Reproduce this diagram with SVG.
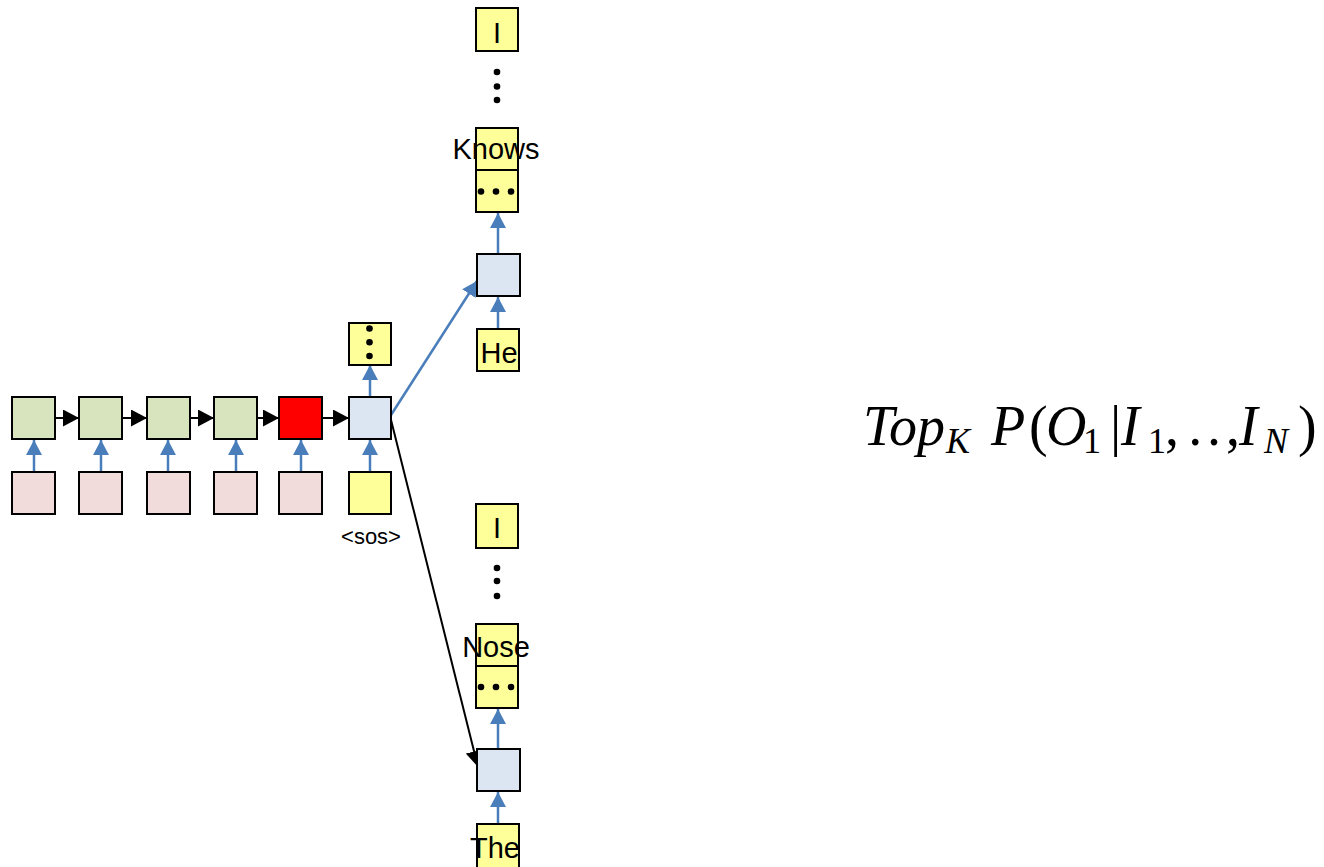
<svg xmlns="http://www.w3.org/2000/svg" width="1324" height="867" viewBox="0 0 1324 867">
<style>
.b{stroke:#000;stroke-width:2}
.g{fill:#d7e4bd}.p{fill:#f2dcdb}.l{fill:#dce6f2}.y{fill:#ffff99}.r{fill:#ff0000}
.ab{stroke:#4a7ebb;stroke-width:2.5;fill:none;marker-end:url(#mb)}
.ak{stroke:#000;stroke-width:2;fill:none;marker-end:url(#mk)}
.t{font-family:"Liberation Sans",Arial,sans-serif;font-size:29px;fill:#000;text-anchor:middle}
.s{font-family:"Liberation Sans",Arial,sans-serif;font-size:22px;fill:#000;text-anchor:middle}
.m{font-family:"Liberation Serif","Times New Roman",serif;font-size:56px;fill:#000;font-style:italic}
.n{font-style:normal}
.sub{font-size:36px}
.d{fill:#000}
</style>
<defs>
<marker id="mb" markerUnits="userSpaceOnUse" markerWidth="16" markerHeight="16" refX="15" refY="8" orient="auto"><path d="M0,0 L15,8 L0,16 z" fill="#4a7ebb"/></marker>
<marker id="mk" markerUnits="userSpaceOnUse" markerWidth="17" markerHeight="17" refX="16" refY="8.5" orient="auto"><path d="M0,0 L16,8.5 L0,17 z" fill="#000"/></marker>
</defs>
<g id="connectors">
<line class="ak" x1="55" y1="418" x2="79" y2="418"/>
<line class="ak" x1="122" y1="418" x2="147" y2="418"/>
<line class="ak" x1="190" y1="418" x2="214" y2="418"/>
<line class="ak" x1="257" y1="418" x2="279" y2="418"/>
<line class="ak" x1="322" y1="418" x2="349" y2="418"/>
<line class="ab" x1="34" y1="472" x2="34" y2="440"/>
<line class="ab" x1="101" y1="472" x2="101" y2="440"/>
<line class="ab" x1="168" y1="472" x2="168" y2="440"/>
<line class="ab" x1="236" y1="472" x2="236" y2="440"/>
<line class="ab" x1="301" y1="472" x2="301" y2="440"/>
<line class="ab" x1="370" y1="472" x2="370" y2="440"/>
<line class="ab" x1="370" y1="397" x2="370" y2="365"/>
<line class="ab" x1="391" y1="415" x2="477" y2="281"/>
<line class="ak" x1="391" y1="420" x2="478" y2="767"/>
<line class="ab" x1="498" y1="329" x2="498" y2="297"/>
<line class="ab" x1="498" y1="254" x2="498" y2="213"/>
<line class="ab" x1="498" y1="824" x2="498" y2="792"/>
<line class="ab" x1="498" y1="749" x2="498" y2="709"/>
</g>
<g id="enc1"><rect class="b g" x="12" y="397" width="43" height="42"/></g>
<g id="enc2"><rect class="b g" x="79" y="397" width="43" height="42"/></g>
<g id="enc3"><rect class="b g" x="147" y="397" width="43" height="42"/></g>
<g id="enc4"><rect class="b g" x="214" y="397" width="43" height="42"/></g>
<g id="enc5"><rect class="b r" x="279" y="397" width="43" height="42"/></g>
<g id="dec0"><rect class="b l" x="349" y="397" width="42" height="42"/></g>
<g id="in1"><rect class="b p" x="12" y="472" width="43" height="42"/></g>
<g id="in2"><rect class="b p" x="79" y="472" width="43" height="42"/></g>
<g id="in3"><rect class="b p" x="147" y="472" width="43" height="42"/></g>
<g id="in4"><rect class="b p" x="214" y="472" width="43" height="42"/></g>
<g id="in5"><rect class="b p" x="279" y="472" width="43" height="42"/></g>
<g id="sos"><rect class="b y" x="349" y="472" width="42" height="42"/><text class="s" x="371" y="544">&lt;sos&gt;</text></g>
<g id="out0"><rect class="b y" x="349" y="323" width="42" height="42"/><circle class="d" cx="369.5" cy="328.5" r="3.3"/><circle class="d" cx="369.5" cy="342.3" r="3.3"/><circle class="d" cx="369.5" cy="356" r="3.3"/></g>
<g id="topI"><rect class="b y" x="476" y="8" width="42" height="43"/><text class="t" x="497" y="43">I</text></g>
<g id="topdots"><circle class="d" cx="497" cy="72" r="3.3"/><circle class="d" cx="497" cy="86.5" r="3.3"/><circle class="d" cx="497" cy="100" r="3.3"/></g>
<g id="knows"><rect class="b y" x="476" y="128" width="42" height="42"/><text class="t" x="496" y="159">Knows</text></g>
<g id="topell"><rect class="b y" x="476" y="170" width="42" height="42"/><circle class="d" cx="481" cy="191.5" r="3.3"/><circle class="d" cx="496" cy="191.5" r="3.3"/><circle class="d" cx="511" cy="191.5" r="3.3"/></g>
<g id="dec1"><rect class="b l" x="477" y="254" width="43" height="42"/></g>
<g id="he"><rect class="b y" x="477" y="329" width="42" height="42"/><text class="t" x="499" y="363">He</text></g>
<g id="botI"><rect class="b y" x="476" y="504" width="42" height="44"/><text class="t" x="497" y="538">I</text></g>
<g id="botdots"><circle class="d" cx="497" cy="568" r="3.3"/><circle class="d" cx="497" cy="581" r="3.3"/><circle class="d" cx="497" cy="596" r="3.3"/></g>
<g id="nose"><rect class="b y" x="476" y="624" width="42" height="42"/><text class="t" x="496" y="657">Nose</text></g>
<g id="botell"><rect class="b y" x="476" y="666" width="42" height="42"/><circle class="d" cx="481" cy="687" r="3.3"/><circle class="d" cx="496" cy="687" r="3.3"/><circle class="d" cx="511" cy="687" r="3.3"/></g>
<g id="dec2"><rect class="b l" x="477" y="749" width="43" height="42"/></g>
<g id="the"><rect class="b y" x="477" y="824" width="42" height="50"/><text class="t" x="495" y="858">The</text></g>
<g id="formula">
<text class="m" y="445"><tspan x="863">Top</tspan><tspan class="sub" x="946" y="453">K</tspan><tspan x="991" y="445">P</tspan><tspan class="n" x="1029">(</tspan><tspan x="1046">O</tspan><tspan class="sub n" x="1083" y="453">1</tspan><tspan class="n" x="1110" y="445">|</tspan><tspan x="1121">I</tspan><tspan class="sub n" x="1148" y="453">1</tspan><tspan class="n" x="1165" y="445">,</tspan><tspan class="n" x="1186">…</tspan><tspan class="n" x="1226">,</tspan><tspan x="1239">I</tspan><tspan class="sub" x="1264" y="453">N</tspan><tspan class="n" x="1298" y="445">)</tspan></text>
</g>
</svg>
